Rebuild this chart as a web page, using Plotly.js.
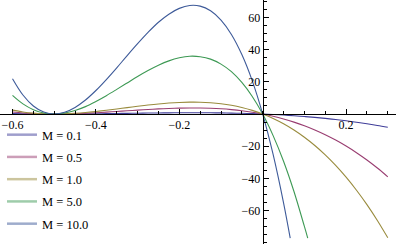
<!DOCTYPE html>
<html>
<head>
<meta charset="utf-8">
<script src="https://cdn.plot.ly/plotly-3.0.1.min.js"></script>
<style>html,body{margin:0;padding:0;background:#fff;}#chart{width:396px;height:244px;}</style>
</head>
<body>
<div id="chart"></div>
<script>
// Shared x grid (the M=5 and M=10 curves leave the plot early, so they stop sooner)
const xFull = [-0.6,-0.575,-0.55,-0.525,-0.5,-0.475,-0.45,-0.425,-0.4,-0.375,-0.35,-0.325,-0.3,-0.275,-0.25,-0.225,-0.2,-0.175,-0.15,-0.125,-0.1,-0.075,-0.05,-0.025,0,0.025,0.05,0.075,0.1,0.125,0.15,0.175,0.2,0.225,0.25,0.275,0.3];
const xM10 = [-0.6,-0.575,-0.55,-0.525,-0.5,-0.475,-0.45,-0.425,-0.4,-0.375,-0.35,-0.325,-0.3,-0.275,-0.25,-0.225,-0.2,-0.175,-0.15,-0.125,-0.1,-0.075,-0.05,-0.025,0,0.025,0.05,0.066];
const xM5 = [-0.6,-0.575,-0.55,-0.525,-0.5,-0.475,-0.45,-0.425,-0.4,-0.375,-0.35,-0.325,-0.3,-0.275,-0.25,-0.225,-0.2,-0.175,-0.15,-0.125,-0.1,-0.075,-0.05,-0.025,0,0.025,0.05,0.075,0.1,0.108];

const yM01 = [0.26,0.14,0.06,0.01,0,0.01,0.05,0.1,0.17,0.25,0.34,0.43,0.52,0.6,0.67,0.73,0.77,0.79,0.79,0.76,0.69,0.58,0.44,0.24,0,-0.3,-0.65,-1.07,-1.55,-2.1,-2.73,-3.43,-4.21,-5.09,-6.05,-7.1,-8.26];
const yM05 = [1.22,0.66,0.28,0.07,0,0.06,0.23,0.49,0.81,1.19,1.6,2.02,2.44,2.83,3.17,3.45,3.65,3.75,3.73,3.57,3.25,2.75,2.06,1.15,0,-1.4,-3.07,-5.03,-7.31,-9.91,-12.87,-16.19,-19.89,-24.01,-28.55,-33.53,-38.98];
const yM1 = [2.4,1.3,0.55,0.13,0,0.12,0.45,0.96,1.6,2.34,3.15,3.98,4.8,5.57,6.25,6.81,7.2,7.39,7.35,7.03,6.4,5.42,4.05,2.26,0,-2.76,-6.05,-9.92,-14.4,-19.53,-25.35,-31.89,-39.2,-47.31,-56.25,-66.07,-76.8];
const yM5 = [11.6,6.3,2.7,0.6,0,0.6,2.2,4.6,7.8,11.4,15.3,19.3,23.3,27.0,30.3,33.0,34.9,35.9,35.6,34.1,31.0,26.3,19.6,10.9,0,-13.4,-29.3,-48.1,-69.8,-77.0];
const yM10 = [21.9,11.8,5.0,1.2,0,1.1,4.1,8.7,14.6,21.4,28.7,36.3,43.7,50.7,57.0,62.0,65.6,67.4,67.0,64.1,58.3,49.4,36.9,20.6,0,-25.1,-55.1,-77.0];

const seriesNames = ["M = 0.1","M = 0.5","M = 1.0","M = 5.0","M = 10.0"];
const xTickVals = [-0.6,-0.4,-0.2,0.2];
const xTickText = ["\u22120.6","\u22120.4","\u22120.2","0.2"];
const yTickVals = [-60,-40,-20,20,40,60];
const yTickText = ["\u221260","\u221240","\u221220","20","40","60"];

const colors = ["#3F3D99","#993D71","#998B3D","#3D9954","#3D5A99"];
const legendColors = ["#9F9ECC","#CC9EB8","#CCC59E","#9ECCAA","#9EACCC"];

const xs = [xFull, xFull, xFull, xM5, xM10];
const ys = [yM01, yM05, yM1, yM5, yM10];

const traces = [];
for (let i = 0; i < 5; i++) {
  traces.push({x: xs[i], y: ys[i], type: "scatter", mode: "lines",
    line: {color: colors[i], width: 1.1, shape: "spline", smoothing: 1},
    showlegend: false, hoverinfo: "skip", cliponaxis: true});
}
for (let i = 0; i < 5; i++) {
  traces.push({x: [null], y: [null], type: "scatter", mode: "lines", name: seriesNames[i],
    legendgroup: "g" + i, line: {color: legendColors[i], width: 2.5}});
}

const font = {family: "Liberation Serif, Times New Roman, serif", size: 12, color: "#000"};
const layout = {
  width: 396, height: 244,
  margin: {l: 0, r: 0, t: 0, b: 0, pad: 0},
  paper_bgcolor: "#fff", plot_bgcolor: "#fff",
  font: font,
  showlegend: true,
  legend: {x: 0.005, y: 0.508, xanchor: "left", yanchor: "top", bgcolor: "rgba(0,0,0,0)",
    font: {family: font.family, size: 12.5, color: "#000"}, tracegroupgap: 3, traceorder: "grouped"},
  xaxis: {range: [-0.630, 0.3197], anchor: "free", position: 0.5328,
    showgrid: false, zeroline: false, showline: true, linecolor: "#000", linewidth: 1,
    tickmode: "array", tickvals: xTickVals, ticktext: xTickText,
    ticks: "inside", ticklen: 4.5, tickwidth: 1, tickcolor: "#000",
    minor: {tick0: 0, dtick: 0.05, ticks: "inside", ticklen: 3, tickwidth: 1, tickcolor: "#000", showgrid: false},
    tickfont: {family: font.family, size: 12, color: "#000"}, fixedrange: true},
  yaxis: {range: [-80.7, 70.8], anchor: "free", position: 0.6634,
    showgrid: false, zeroline: false, showline: true, linecolor: "#000", linewidth: 1,
    tickmode: "array", tickvals: yTickVals, ticktext: yTickText,
    ticks: "inside", ticklen: 5.5, tickwidth: 1, tickcolor: "#000",
    minor: {tick0: 0, dtick: 5, ticks: "inside", ticklen: 3, tickwidth: 1, tickcolor: "#000", showgrid: false},
    tickfont: {family: font.family, size: 12, color: "#000"}, fixedrange: true}
};

Plotly.newPlot("chart", traces, layout, {staticPlot: true, displayModeBar: false});
</script>
</body>
</html>
